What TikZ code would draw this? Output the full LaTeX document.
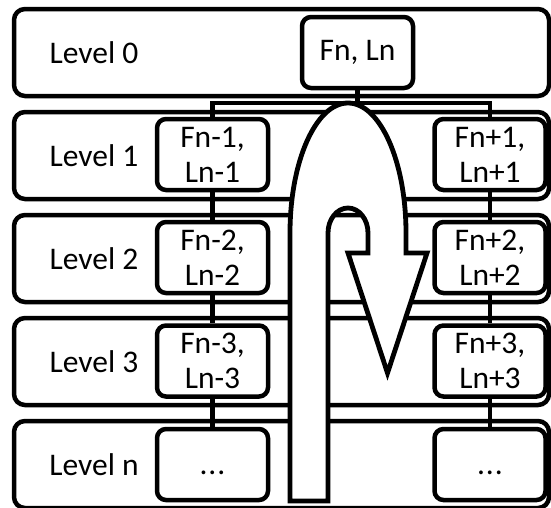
\documentclass[tikz,border=0pt]{standalone}
\usepackage{fontspec}
\setmainfont{Carlito}
\begin{document}
\begin{tikzpicture}[x=1pt,y=1pt,
  band/.style={draw, line width=4.5pt, rounded corners=11pt, fill=white,
    minimum width=535pt, minimum height=87pt, inner sep=0pt},
  lvl/.style={inner sep=0pt, font=\fontsize{31.5}{35}\selectfont},
  cell/.style={draw, line width=4.5pt, rounded corners=9pt, fill=white,
    minimum width=111pt, minimum height=71pt, inner sep=0pt, align=center,
    font=\fontsize{31.5}{35}\selectfont},
  link/.style={line width=4.5pt},
  uturn/.style={draw, line width=4.8pt, fill=white, line join=miter}]
\useasboundingbox (0,0) rectangle (551,-507);

% level bands
\node[band] (b0) at (281.5,-52.5) {};
\node[band] (b1) at (281.5,-155.5) {};
\node[band] (b2) at (281.5,-258.5) {};
\node[band] (b3) at (281.5,-361.5) {};
\node[band] (bn) at (281.5,-464.5) {};

% level names
\node[lvl] (t0) at (94,-52.5) {Level 0};
\node[lvl] (t1) at (94,-155.5) {Level 1};
\node[lvl] (t2) at (94,-258.5) {Level 2};
\node[lvl] (t3) at (94,-361.5) {Level 3};
\node[lvl] (tn) at (94,-464.5) {Level n};

% cells
\node[cell] (top) at (357.5,-52.5) {Fn, Ln};
\node[cell] (l1) at (212.5,-154.5) {Fn-1,\\Ln-1};
\node[cell] (l2) at (212.5,-257.5) {Fn-2,\\Ln-2};
\node[cell] (l3) at (212.5,-361) {Fn-3,\\Ln-3};
\node[cell] (ln) at (212.5,-464.5) {\vphantom{L}.\kern1pt.\kern1pt.};
\node[cell] (r1) at (490,-154.5) {Fn+1,\\Ln+1};
\node[cell] (r2) at (490,-257.5) {Fn+2,\\Ln+2};
\node[cell] (r3) at (490,-361) {Fn+3,\\Ln+3};
\node[cell] (rn) at (490,-464.5) {\vphantom{L}.\kern1pt.\kern1pt.};

% tree links
\coordinate (hub) at (357.5,-103);
\draw[link] (top.south) -- (hub);
\draw[link] (l1.north) |- (hub) -| (r1.north);
\draw[link] (l1) -- (l2);
\draw[link] (l2) -- (l3);
\draw[link] (l3) -- (ln);
\draw[link] (r1) -- (r2);
\draw[link] (r2) -- (r3);
\draw[link] (r3) -- (rn);

% U-turn arrow
\draw[uturn] (290,-501) -- (290,-233)
  arc[start angle=180, end angle=0, x radius=58, y radius=130]
  -- (406,-253) -- (427,-253) -- (387.5,-373) -- (348,-253) -- (368,-253)
  -- (368,-233)
  arc[start angle=0, end angle=180, x radius=20, y radius=25]
  -- (328,-501) -- cycle;
\end{tikzpicture}
\end{document}
